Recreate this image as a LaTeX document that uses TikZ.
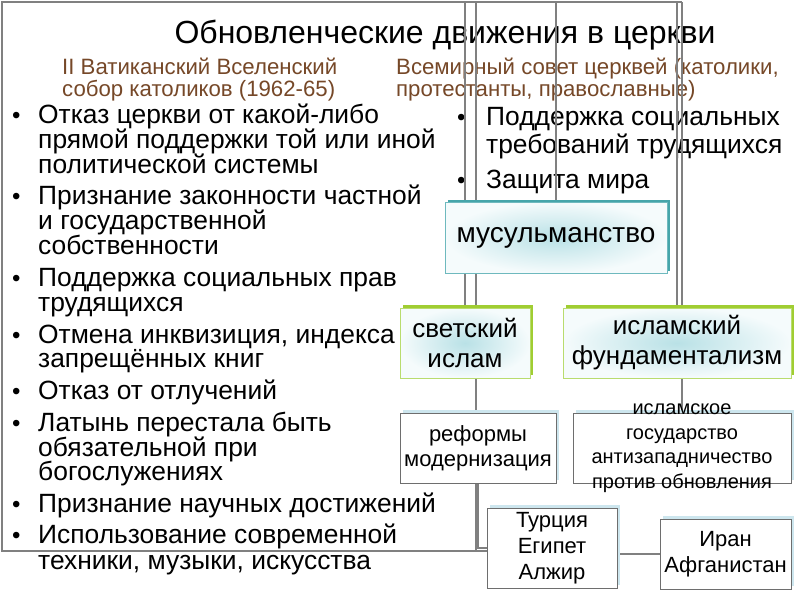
\documentclass[tikz,border=0pt]{standalone}
\usepackage{fontspec}
\setmainfont{Liberation Sans}
\usetikzlibrary{shadows,backgrounds}
\definecolor{linegray}{RGB}{128,128,128}
\definecolor{brownT}{RGB}{118,72,40}
\definecolor{tealIn}{RGB}{185,225,230}
\definecolor{tealOut}{RGB}{245,251,252}
\definecolor{tealBorder}{RGB}{110,185,190}
\definecolor{tealGlow}{RGB}{70,165,170}
\definecolor{greenGlow}{RGB}{160,205,50}
\definecolor{greenBorder}{RGB}{185,220,110}
\definecolor{blueGlow}{RGB}{205,230,238}
\definecolor{boxGray}{RGB}{110,110,110}
\begin{document}
\begin{tikzpicture}[x=1pt,y=-1pt,
  conn/.style={draw=linegray,line width=1.5pt},
  txt/.style={anchor=base west,inner sep=0pt,font=\fontsize{26.4}{27}\selectfont},
  bul/.style={anchor=base west,inner sep=0pt,font=\fontsize{24}{25}\selectfont},
  sub/.style={anchor=base west,inner sep=0pt,text=brownT,font=\fontsize{22.2}{23}\selectfont},
  musbox/.style={draw=tealBorder,line width=0.8pt,shading=radial,inner color=tealIn,outer color=tealOut,
     general shadow={fill=tealGlow,shadow xshift=2.5pt,shadow yshift=2pt},
     inner sep=0pt,outer sep=0pt,align=center},
  grbox/.style={draw=greenBorder,line width=0.8pt,shading=radial,inner color=tealIn,outer color=tealOut,
     general shadow={fill=greenGlow,shadow xshift=3pt,shadow yshift=3pt},
     inner sep=0pt,outer sep=0pt,align=center,font=\fontsize{26}{30}\selectfont},
  whbox/.style={draw=boxGray,line width=0.8pt,fill=white,
     general shadow={fill=blueGlow,shadow xshift=3pt,shadow yshift=3pt},
     inner sep=0pt,outer sep=0pt,align=center}
]
\useasboundingbox (0,0) rectangle (800,600);

% boxes (main layer)
\node[musbox,minimum width=222pt,minimum height=71pt,font=\fontsize{28}{30}\selectfont] (mus) at (556,237.5) {мусульманство};
\node[grbox,minimum width=130pt,minimum height=70pt] (svet) at (465,343) {светский\\ислам};
\node[grbox,minimum width=228pt,minimum height=70pt] (fund) at (677,343) {исламский\\фундаментализм};
\node[whbox,minimum width=156pt,minimum height=70pt,font=\fontsize{22}{25}\selectfont] (ref) at (478,448) {реформы\\модернизация};
\node[whbox,minimum width=218pt,minimum height=70pt] (isl) at (682,448) {};
\node[inner sep=0pt,align=center,font=\fontsize{20}{24.5}\selectfont] (islT) at (isl.center) {исламское\\государство\\антизападничество\\против обновления};
\node[whbox,minimum width=130pt,minimum height=80pt,font=\fontsize{22}{26}\selectfont] (tur) at (552,548) {Турция\\Египет\\Алжир};
\node[whbox,minimum width=131pt,minimum height=70pt,font=\fontsize{22}{26}\selectfont] (iran) at (725.5,554) {Иран\\Афганистан};

\begin{pgfonlayer}{background}
\fill[white] (0,0) rectangle (800,600);
% texts
\node[anchor=base,inner sep=0pt,font=\fontsize{32}{34}\selectfont] (title) at (445,43) {Обновленческие движения в церкви};
\node[sub] (s1a) at (62,74) {II Ватиканский Вселенский};
\node[sub] (s1b) at (62,96) {собор католиков (1962-65)};
\node[sub] (s2a) at (396,74) {Всемирный совет церквей (католики,};
\node[sub] (s2b) at (396,96) {протестанты, православные)};

\node[bul] (b1) at (12,123) {•};
\node[txt] (l1) at (38,123) {Отказ церкви от какой-либо};
\node[txt] (l2) at (38,148) {прямой поддержки той или иной};
\node[txt] (l3) at (38,173) {политической системы};
\node[bul] (b2) at (12,204) {•};
\node[txt] (l4) at (38,204) {Признание законности частной};
\node[txt] (l5) at (38,229) {и государственной};
\node[txt] (l6) at (38,254) {собственности};
\node[bul] (b3) at (12,286) {•};
\node[txt] (l7) at (38,286) {Поддержка социальных прав};
\node[txt] (l8) at (38,311) {трудящихся};
\node[bul] (b4) at (12,343) {•};
\node[txt] (l9) at (38,343) {Отмена инквизиция, индекса};
\node[txt] (l10) at (38,367) {запрещённых книг};
\node[bul] (b5) at (12,399) {•};
\node[txt] (l11) at (38,399) {Отказ от отлучений};
\node[bul] (b6) at (12,431) {•};
\node[txt] (l12) at (38,431) {Латынь перестала быть};
\node[txt] (l13) at (38,456) {обязательной при};
\node[txt] (l14) at (38,480) {богослужениях};
\node[bul] (b7) at (12,512) {•};
\node[txt] (l15) at (38,512) {Признание научных достижений};
\node[bul] (b8) at (12,543) {•};
\node[txt] (l16) at (38,543) {Использование современной};
\node[txt] (l17) at (38,569) {техники, музыки, искусства};

\node[bul] (rb1) at (457,125) {•};
\node[txt] (r1) at (486,125) {Поддержка социальных};
\node[txt] (r2) at (486,153) {требований трудящихся};
\node[bul] (rb2) at (457,188) {•};
\node[txt] (r3) at (486,188) {Защита мира};

% lines
\coordinate (cTL) at (2,2);
\coordinate (cBL) at (2,551);
\coordinate (cTR) at (682,2);
\coordinate (cRT) at (476,2);
\coordinate (cRB) at (476,551);
\draw[conn] (cTR) -- (cTL) -- (cBL) -- (cBL -| tur.west);
\draw[conn] (cRT) -- (cRB);
\draw[conn] (svet.north |- cTL) -- (svet.north);
\draw[conn] (mus.north |- cTL) -- (mus.north);
\draw[conn] (fund.north |- cTL) -- (fund.north);
\draw[conn] (isl.north |- cTL) -- (isl.north);
\draw[conn] (ref.south) |- (tur.west);
\draw[conn] (iran.west) -- (iran.west -| tur.east);
\end{pgfonlayer}
\end{tikzpicture}
\end{document}
